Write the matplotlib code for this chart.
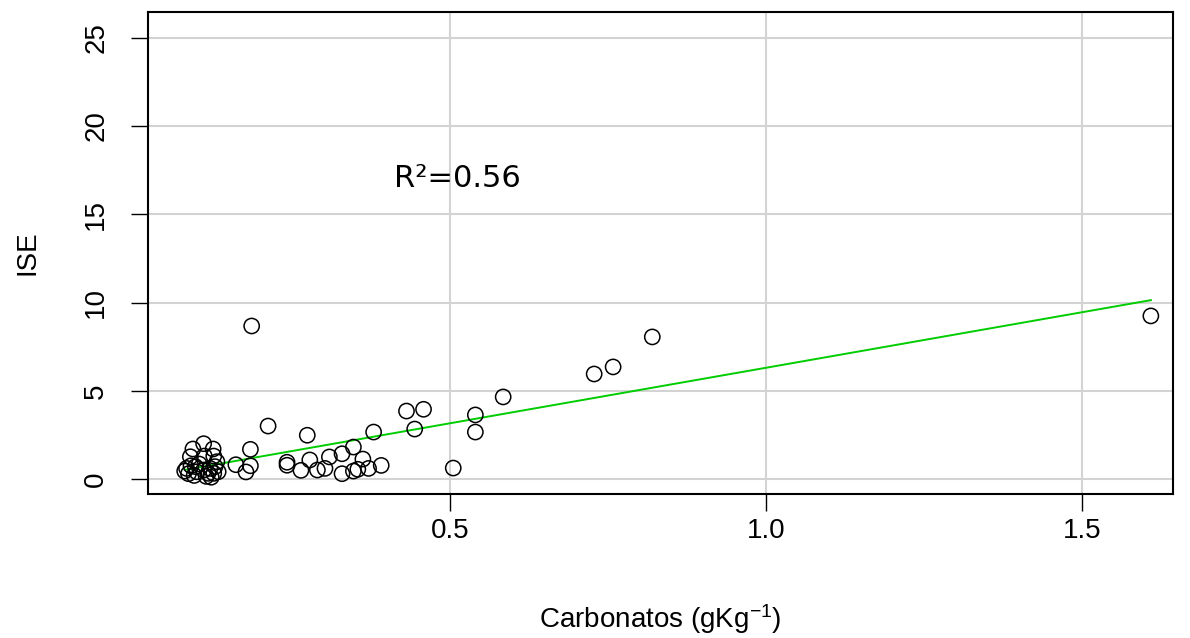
import matplotlib
matplotlib.use("Agg")
import matplotlib.pyplot as plt
import numpy as np

plt.rcParams["font.family"] = ["Liberation Sans", "DejaVu Sans"]
plt.rcParams["mathtext.fontset"] = "custom"
plt.rcParams["mathtext.rm"] = "Liberation Sans"
plt.rcParams["mathtext.it"] = "Liberation Sans:italic"

# carbonate content (g/kg) and ISE for each sample
carbonatos = [0.080, 0.083, 0.086, 0.089, 0.093, 0.090, 0.097, 0.099, 0.095, 0.103,
              0.110, 0.111, 0.110, 0.114, 0.117, 0.120, 0.125, 0.126, 0.126, 0.122,
              0.131, 0.133, 0.128,
              0.161, 0.177, 0.184, 0.184, 0.186, 0.212, 0.242, 0.242, 0.264, 0.274,
              0.278, 0.290, 0.302, 0.309, 0.329, 0.329, 0.347, 0.347, 0.354, 0.362,
              0.371, 0.379, 0.391, 0.431, 0.444, 0.458, 0.505, 0.540, 0.540, 0.584,
              0.728, 0.758, 0.820, 1.609]
ise = [0.45, 0.60, 0.30, 1.26, 1.70, 0.75, 0.70, 0.41, 0.20, 0.85,
       2.00, 1.30, 0.51, 0.15, 0.32, 0.60, 1.70, 1.30, 0.32, 0.10,
       0.98, 0.41, 0.70,
       0.81, 0.40, 0.75, 1.68, 8.67, 3.00, 0.95, 0.78, 0.49, 2.48,
       1.08, 0.51, 0.60, 1.25, 1.43, 0.30, 1.81, 0.45, 0.55, 1.13,
       0.60, 2.66, 0.77, 3.85, 2.83, 3.95, 0.62, 3.63, 2.66, 4.65,
       5.95, 6.35, 8.05, 9.24]

# linear fit: ISE = intercept + slope * carbonatos
intercept = 0.013
slope = 6.29
r2 = 0.56

fig = plt.figure(figsize=(11.9, 6.38), dpi=100)
ax = fig.add_axes([0.1244, 0.2257, 0.8613, 0.7555])

ax.set_xlim(0.022, 1.644)
ax.set_ylim(-0.85, 26.46)

for v in [0.5, 1.0, 1.5]:
    ax.axvline(v, color="#D3D3D3", lw=1.5, zorder=0)
for v in range(0, 26, 5):
    ax.axhline(v, color="#D3D3D3", lw=1.5, zorder=0)

ax.scatter(carbonatos, ise, s=120, facecolors="none", edgecolors="black",
           linewidths=1.1, zorder=3)

xfit = np.array([min(carbonatos), max(carbonatos)])
ax.plot(xfit, intercept + slope * xfit, color="#00CD00", lw=1.4, zorder=2)

ax.text(0.511, 17.05, "R\u00b2=%.2f" % r2, family="DejaVu Sans", fontsize=22,
        ha="center", va="center")

ax.set_xticks([0.5, 1.0, 1.5])
ax.set_xticklabels(["0.5", "1.0", "1.5"])
ax.set_yticks(range(0, 26, 5))
ax.set_yticklabels([str(v) for v in range(0, 26, 5)], rotation=90, va="center")
ax.tick_params(axis="both", direction="out", length=12, width=1, labelsize=20)
ax.tick_params(axis="x", pad=5)
ax.tick_params(axis="y", pad=16)

for sp in ax.spines.values():
    sp.set_linewidth(1.5)

ax.set_xlabel("Carbonatos (gKg$^{-1}$)", fontsize=20, labelpad=42)
ax.set_ylabel("ISE", fontsize=20, labelpad=31)

fig.savefig("out.png", dpi=100)
